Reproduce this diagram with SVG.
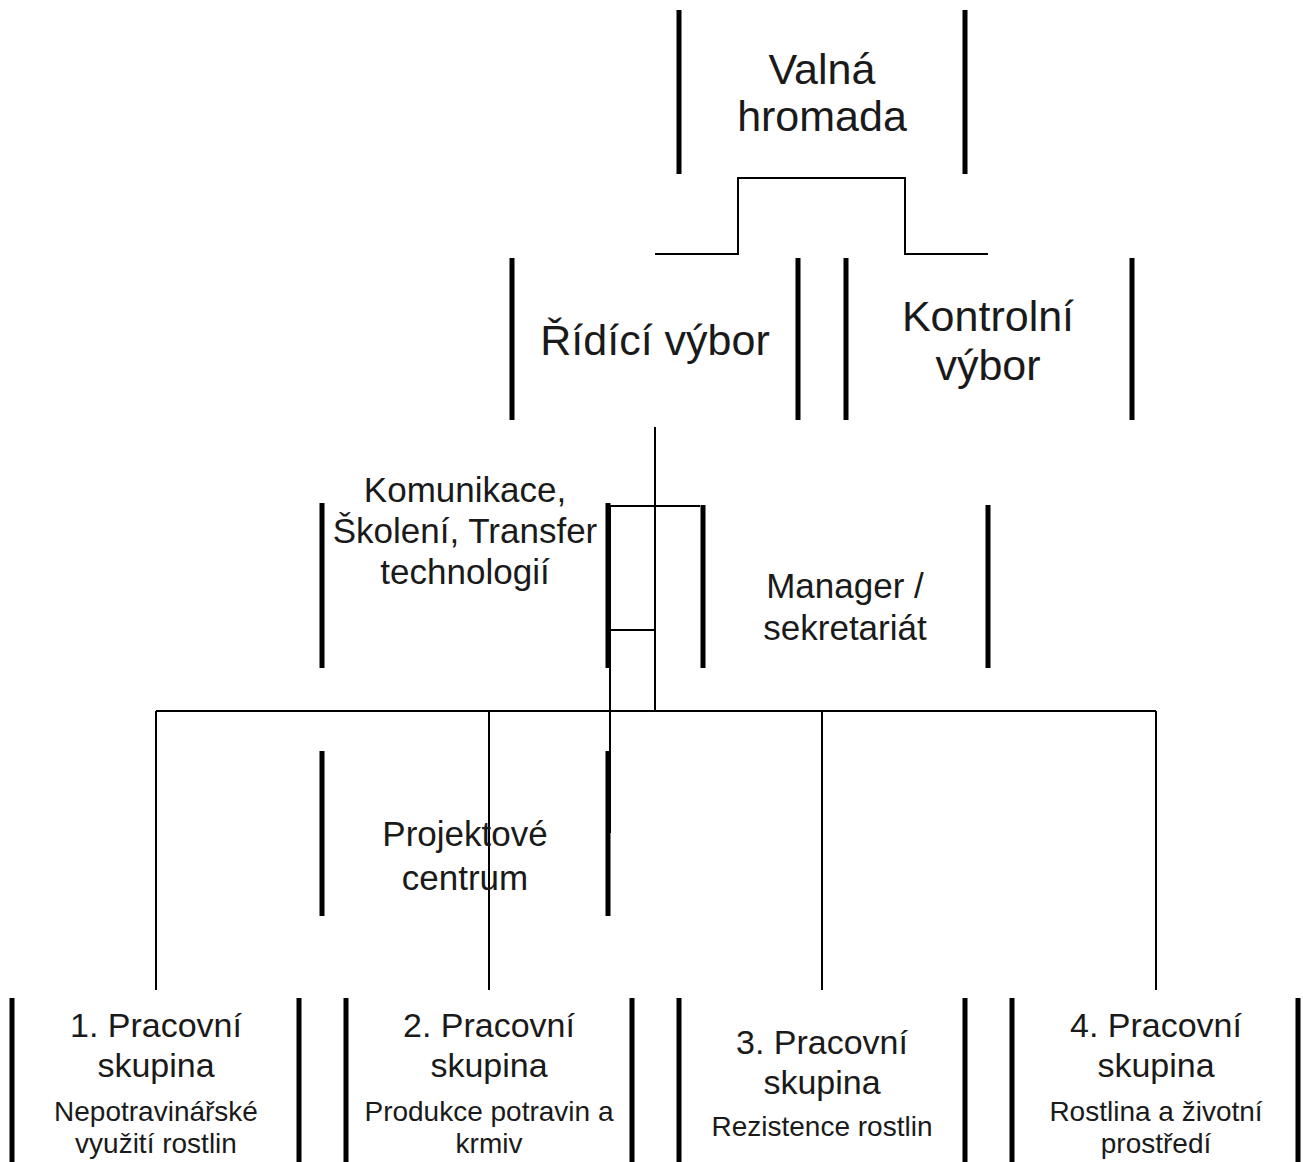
<svg xmlns="http://www.w3.org/2000/svg" width="1303" height="1162" viewBox="0 0 1303 1162">
<style>
.bar{stroke:#000;stroke-width:5;fill:none}
.ln{stroke:#000;stroke-width:2;fill:none}
text{font-family:"Liberation Sans",Arial,sans-serif;fill:#1a1a1a;text-anchor:middle}
.big{font-size:43px}
.mid{font-size:35px}
.grp{font-size:34px}
.sub{font-size:28px}
</style>
<rect width="1303" height="1162" fill="#fff"/>
<g id="connectors">
<polyline class="ln" points="655,254 738,254 738,178 905,178 905,254 988,254"/>
<line class="ln" x1="655" y1="427" x2="655" y2="712"/>
<polyline class="ln" points="700,506 610,506 610,833"/>
<line class="ln" x1="610" y1="630" x2="655" y2="630"/>
<line class="ln" x1="156" y1="711" x2="1156" y2="711"/>
<line class="ln" x1="156" y1="711" x2="156" y2="990"/>
<line class="ln" x1="489" y1="711" x2="489" y2="990"/>
<line class="ln" x1="822" y1="711" x2="822" y2="990"/>
<line class="ln" x1="1156" y1="711" x2="1156" y2="990"/>
</g>
<g id="valna-hromada">
<line class="bar" x1="679" y1="10" x2="679" y2="174"/>
<line class="bar" x1="965" y1="10" x2="965" y2="174"/>
<text class="big" x="822" y="84">Valná</text>
<text class="big" x="822" y="131">hromada</text>
</g>
<g id="ridici-vybor">
<line class="bar" x1="512" y1="258" x2="512" y2="420"/>
<line class="bar" x1="798" y1="258" x2="798" y2="420"/>
<text class="big" x="655" y="355">Řídící výbor</text>
</g>
<g id="kontrolni-vybor">
<line class="bar" x1="846" y1="258" x2="846" y2="420"/>
<line class="bar" x1="1132" y1="258" x2="1132" y2="420"/>
<text class="big" x="988" y="331">Kontrolní</text>
<text class="big" x="988" y="380">výbor</text>
</g>
<g id="komunikace">
<line class="bar" x1="322" y1="503" x2="322" y2="668"/>
<line class="bar" x1="608" y1="503" x2="608" y2="668"/>
<text class="mid" x="465" y="502">Komunikace,</text>
<text class="mid" x="465" y="543">Školení, Transfer</text>
<text class="mid" x="465" y="584">technologií</text>
</g>
<g id="manager">
<line class="bar" x1="703" y1="505" x2="703" y2="668"/>
<line class="bar" x1="988" y1="505" x2="988" y2="668"/>
<text class="mid" x="845" y="598">Manager /</text>
<text class="mid" x="845" y="640">sekretariát</text>
</g>
<g id="projektove-centrum">
<line class="bar" x1="322" y1="751" x2="322" y2="916"/>
<line class="bar" x1="608" y1="751" x2="608" y2="916"/>
<text class="mid" x="465" y="846">Projektové</text>
<text class="mid" x="465" y="890">centrum</text>
</g>
<g id="skupina-1">
<line class="bar" x1="12" y1="998" x2="12" y2="1162"/>
<line class="bar" x1="299" y1="998" x2="299" y2="1162"/>
<text class="grp" x="156" y="1037">1. Pracovní</text>
<text class="grp" x="156" y="1077">skupina</text>
<text class="sub" x="156" y="1121">Nepotravinářské</text>
<text class="sub" x="156" y="1153">využití rostlin</text>
</g>
<g id="skupina-2">
<line class="bar" x1="346" y1="998" x2="346" y2="1162"/>
<line class="bar" x1="632" y1="998" x2="632" y2="1162"/>
<text class="grp" x="489" y="1037">2. Pracovní</text>
<text class="grp" x="489" y="1077">skupina</text>
<text class="sub" x="489" y="1121">Produkce potravin a</text>
<text class="sub" x="489" y="1153">krmiv</text>
</g>
<g id="skupina-3">
<line class="bar" x1="679" y1="998" x2="679" y2="1162"/>
<line class="bar" x1="965" y1="998" x2="965" y2="1162"/>
<text class="grp" x="822" y="1054">3. Pracovní</text>
<text class="grp" x="822" y="1094">skupina</text>
<text class="sub" x="822" y="1136">Rezistence rostlin</text>
</g>
<g id="skupina-4">
<line class="bar" x1="1012" y1="998" x2="1012" y2="1162"/>
<line class="bar" x1="1298" y1="998" x2="1298" y2="1162"/>
<text class="grp" x="1156" y="1037">4. Pracovní</text>
<text class="grp" x="1156" y="1077">skupina</text>
<text class="sub" x="1156" y="1121">Rostlina a životní</text>
<text class="sub" x="1156" y="1153">prostředí</text>
</g>
</svg>
